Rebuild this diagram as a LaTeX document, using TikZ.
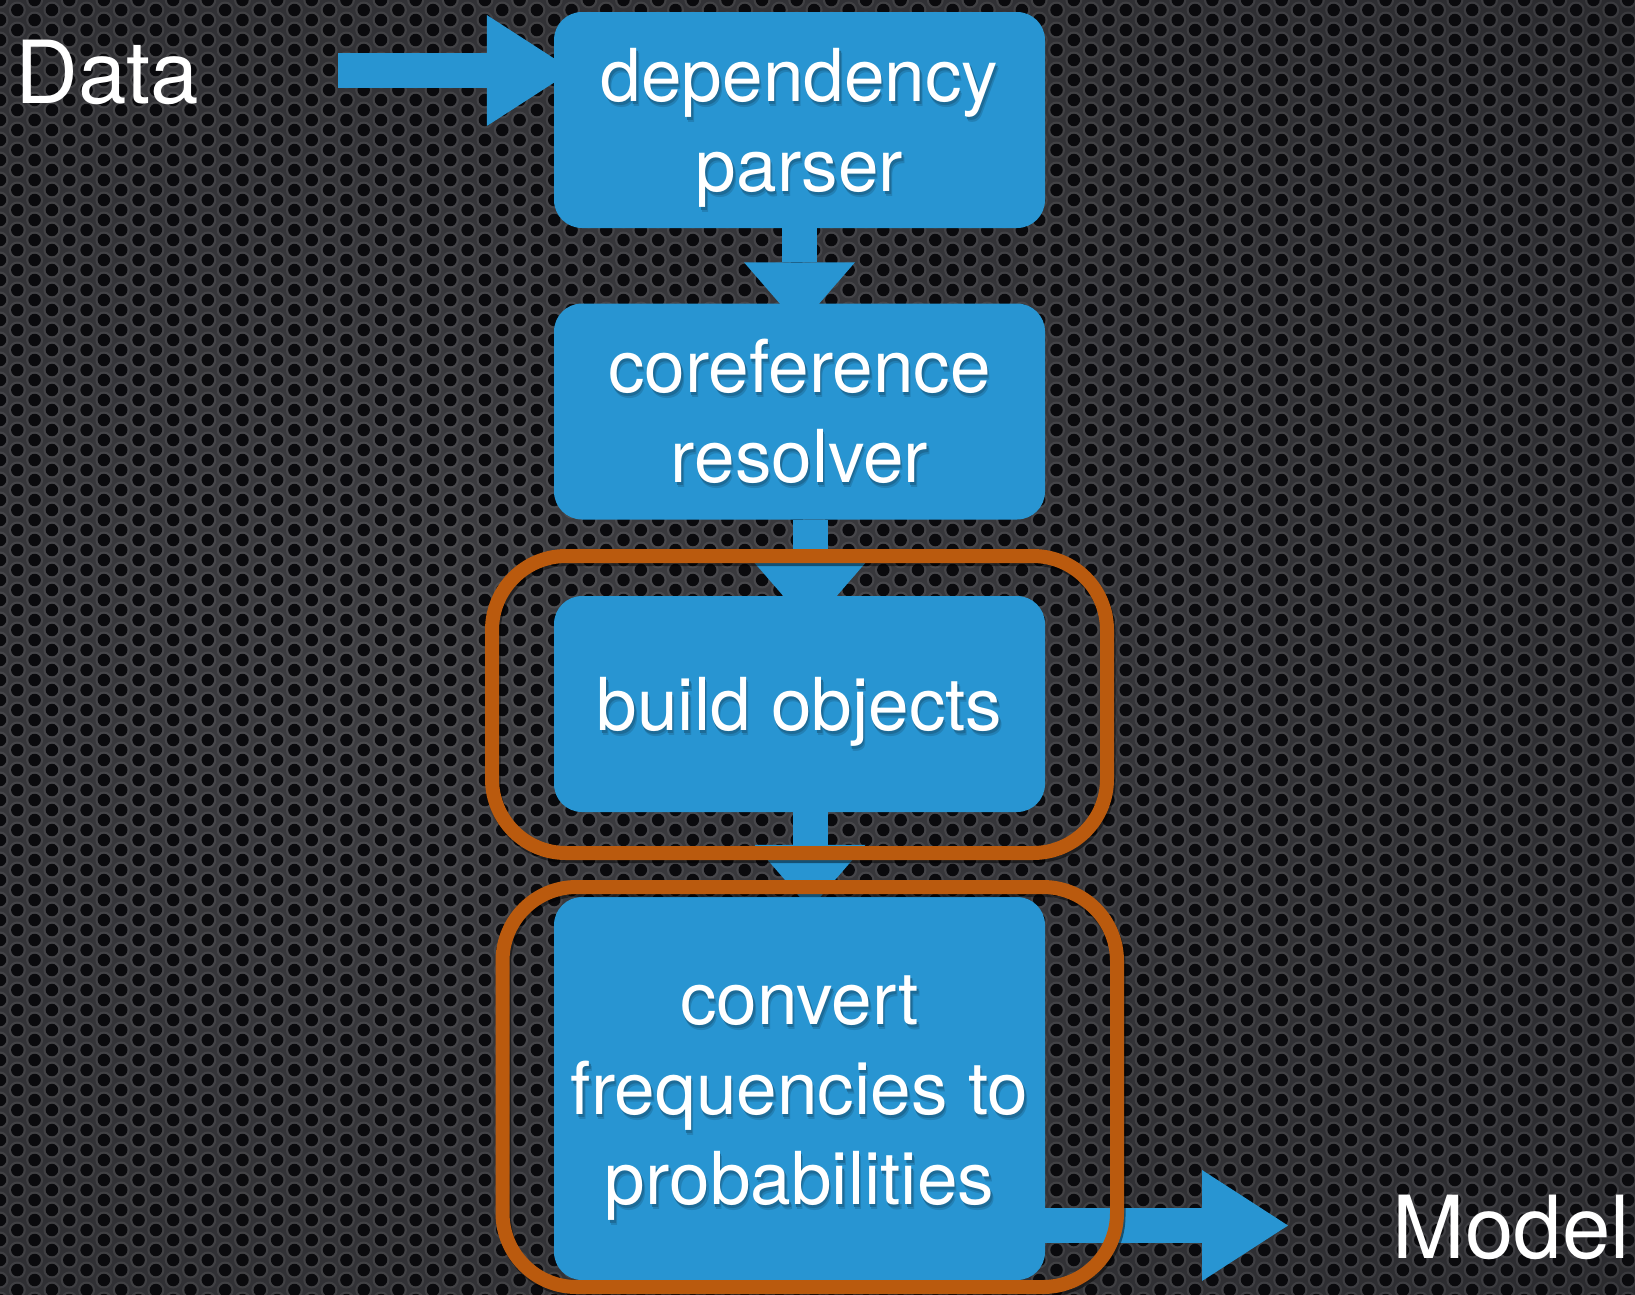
\documentclass[tikz,border=0pt]{standalone}
\usepackage{fontspec}
\setmainfont{TeX Gyre Heros}
\usetikzlibrary{arrows.meta}

\definecolor{boxblue}{HTML}{2895D2}
\definecolor{ringorange}{HTML}{BA5A0E}
\definecolor{meshlight}{HTML}{3E3E42}
\definecolor{meshgray}{HTML}{2D2D31}
\definecolor{meshdark}{HTML}{161618}
\definecolor{meshhole}{HTML}{0A0A0D}
\colorlet{shadowfar}{boxblue!86!black}
\colorlet{shadownear}{boxblue!72!black}

% background plate: lighter towards the left middle, darker at the corners
\pgfdeclareradialshading{meshshade}{\pgfpoint{-12bp}{0bp}}{%
  color(0bp)=(meshlight); color(35bp)=(meshgray); color(60bp)=(meshdark)}

\pgfdeclarelayer{plate}
\pgfdeclarelayer{flow}
\pgfsetlayers{plate,flow,main}

\newcommand\boxfont{\fontsize{73pt}{90pt}\selectfont}
\newcommand\labfont{\fontsize{87pt}{100pt}\selectfont}
% one text line of a stage: fixed height/depth so the blocks centre alike,
% white letters over a soft dark drop shadow
\newcommand\stageline[1]{\rule[-16pt]{0pt}{84pt}%
  \rlap{\smash{\kern2.5pt\raisebox{-5pt}{\color{shadowfar}#1}}}%
  \rlap{\smash{\kern1.5pt\raisebox{-3pt}{\color{shadownear}#1}}}%
  #1}

\begin{document}
\begin{tikzpicture}[x=1pt,y=-1pt,
  stage/.style={fill=boxblue, rounded corners=28pt, minimum width=491pt,
    minimum height=216pt, inner sep=0pt, text=white, align=center, font=\boxfont},
  ring/.style={draw=ringorange, line width=14pt, rounded corners=74pt, inner sep=0pt,
    preaction={draw=black, draw opacity=0.45, transform canvas={xshift=1.5pt,yshift=-3pt}}},
  vflow/.style={draw=boxblue, line width=35pt,
    -{Triangle[width=111pt,length=64pt,line width=0pt]}},
  hflow/.style={draw=boxblue, line width=35pt,
    -{Triangle[width=111pt,length=86pt,line width=0pt]}},
  tag/.style={inner sep=0pt, text=white, font=\labfont},
  meshrim/.style={draw=white, draw opacity=0.08, line width=17pt, line cap=round,
    dash pattern=on 0pt off 20pt},
  meshdot/.style={draw=meshhole, line width=12.5pt, line cap=round,
    dash pattern=on 0pt off 20pt}]

\useasboundingbox (0,0) rectangle (1635,1294);

% perforated metal background
\begin{pgfonlayer}{plate}
\shade[shading=meshshade] (0,0) rectangle (1635,1294);
\foreach \i in {0,2,...,96} {
  \draw[meshrim] (\i*17.32,-20) -- (\i*17.32,1314);
  \draw[meshdot] (\i*17.32,-20) -- (\i*17.32,1314);
}
\foreach \i in {1,3,...,95} {
  \draw[meshrim, dash phase=10pt] (\i*17.32,-20) -- (\i*17.32,1314);
  \draw[meshdot, dash phase=10pt] (\i*17.32,-20) -- (\i*17.32,1314);
}
\end{pgfonlayer}

% pipeline stages
\node[stage] (parse) at (799.5,120) {\stageline{dependency}\\\stageline{parser}};
\node[stage] (coref) at (799.5,411.5) {\stageline{coreference}\\\stageline{resolver}};
\node[stage] (build) at (799.5,704) {\stageline{build objects}};
\node[stage, minimum height=383pt] (convert) at (799.5,1088.5)
  {\stageline{convert}\\\stageline{frequencies to}\\\stageline{probabilities}};

\coordinate (datasrc) at (338,70.5);
\coordinate (modeltip) at (1288,1225.5);

% block arrows, underneath the stages
\begin{pgfonlayer}{flow}
\draw[hflow, shorten >=-19pt] (datasrc) -- (datasrc -| parse.west);
\draw[vflow, shorten >=-23pt] (parse) -- (coref);
\draw[vflow, shorten >=-31pt] ([xshift=10.5pt]coref.south) -- ([xshift=10.5pt]build.north);
\draw[vflow, shorten >=-12pt] ([xshift=10.5pt]build.south) -- ([xshift=10.5pt]convert.north);
\draw[hflow] (modeltip -| convert.east) -- (modeltip);
\end{pgfonlayer}

% highlighted steps
\node[ring, minimum width=615pt, minimum height=297pt] (ringbuild) at (799.5,704.5) {};
\node[ring, minimum width=614.5pt, minimum height=400pt] (ringconvert) at (809.75,1087) {};

% input and output
\node[tag, anchor=base west] (data) at (15,103) {Data};
\node[tag, anchor=base east] (model) at (1630,1258) {Model};
\end{tikzpicture}
\end{document}
